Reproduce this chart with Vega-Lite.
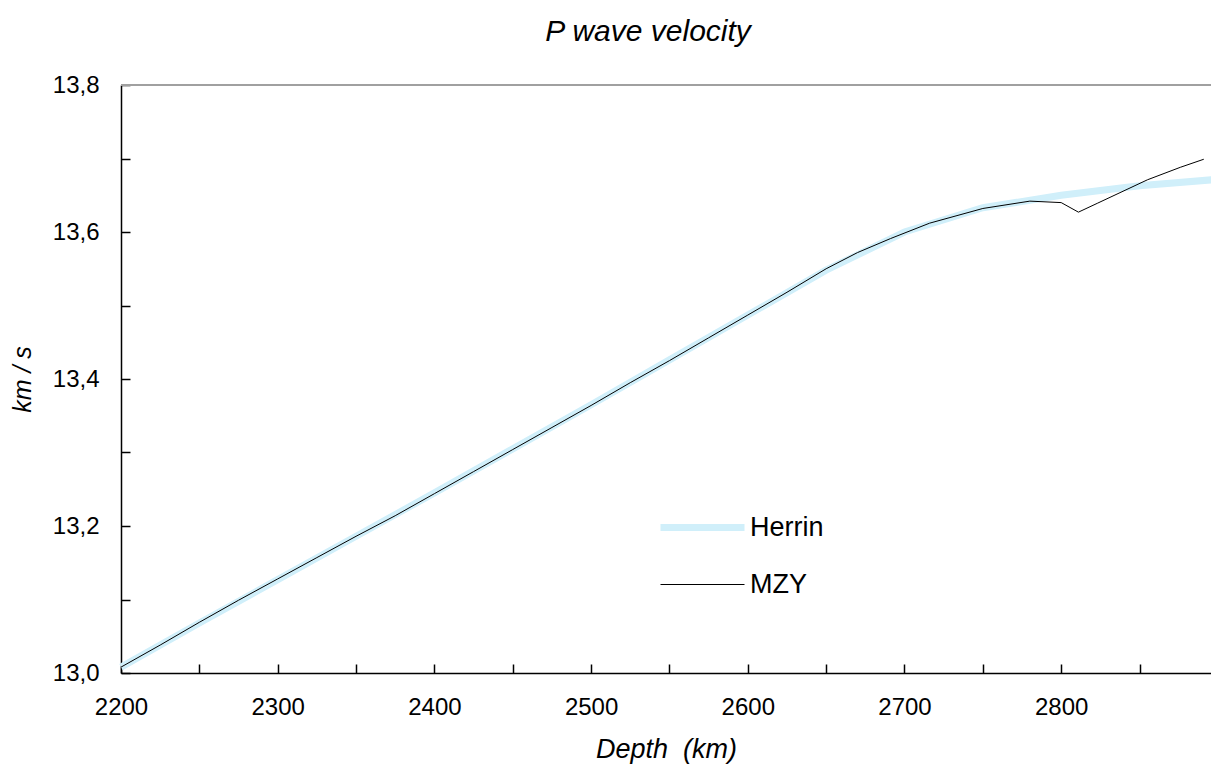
{
  "$schema": "https://vega.github.io/schema/vega-lite/v6.json",
  "width": 1090,
  "height": 588,
  "autosize": "none",
  "padding": {"left": 121, "top": 85, "right": 0, "bottom": 93},
  "background": "white",
  "config": {
    "font": "Liberation Sans",
    "view": {"stroke": null},
    "axis": {
      "grid": false,
      "domainColor": "#000000",
      "domainWidth": 1.5,
      "tickColor": "#000000",
      "tickWidth": 1.5,
      "tickSize": -9,
      "labelColor": "#000000",
      "labelFont": "Liberation Sans",
      "labelFontSize": 24,
      "titleColor": "#000000",
      "titleFont": "Liberation Sans",
      "titleFontStyle": "italic",
      "titleFontWeight": "normal"
    }
  },
  "title": {
    "text": "P wave velocity",
    "font": "Liberation Sans",
    "fontSize": 30,
    "fontStyle": "italic",
    "fontWeight": "normal",
    "color": "#000000",
    "anchor": "middle",
    "dx": -18,
    "offset": 26
  },
  "data": {
    "values": [
      {"model": "Herrin", "depth": 2200, "vp": 13.008},
      {"model": "Herrin", "depth": 2250, "vp": 13.068},
      {"model": "Herrin", "depth": 2300, "vp": 13.127},
      {"model": "Herrin", "depth": 2350, "vp": 13.186},
      {"model": "Herrin", "depth": 2400, "vp": 13.245},
      {"model": "Herrin", "depth": 2450, "vp": 13.305},
      {"model": "Herrin", "depth": 2500, "vp": 13.365},
      {"model": "Herrin", "depth": 2550, "vp": 13.426},
      {"model": "Herrin", "depth": 2600, "vp": 13.487},
      {"model": "Herrin", "depth": 2650, "vp": 13.548},
      {"model": "Herrin", "depth": 2700, "vp": 13.600},
      {"model": "Herrin", "depth": 2750, "vp": 13.633},
      {"model": "Herrin", "depth": 2800, "vp": 13.650},
      {"model": "Herrin", "depth": 2850, "vp": 13.663},
      {"model": "Herrin", "depth": 2896, "vp": 13.671},
      {"model": "MZY", "depth": 2200, "vp": 13.008},
      {"model": "MZY", "depth": 2225, "vp": 13.038},
      {"model": "MZY", "depth": 2250, "vp": 13.069},
      {"model": "MZY", "depth": 2275, "vp": 13.099},
      {"model": "MZY", "depth": 2300, "vp": 13.128},
      {"model": "MZY", "depth": 2325, "vp": 13.157},
      {"model": "MZY", "depth": 2350, "vp": 13.186},
      {"model": "MZY", "depth": 2375, "vp": 13.214},
      {"model": "MZY", "depth": 2400, "vp": 13.244},
      {"model": "MZY", "depth": 2425, "vp": 13.274},
      {"model": "MZY", "depth": 2450, "vp": 13.304},
      {"model": "MZY", "depth": 2475, "vp": 13.334},
      {"model": "MZY", "depth": 2500, "vp": 13.364},
      {"model": "MZY", "depth": 2525, "vp": 13.395},
      {"model": "MZY", "depth": 2550, "vp": 13.425},
      {"model": "MZY", "depth": 2575, "vp": 13.456},
      {"model": "MZY", "depth": 2600, "vp": 13.487},
      {"model": "MZY", "depth": 2625, "vp": 13.518},
      {"model": "MZY", "depth": 2650, "vp": 13.550},
      {"model": "MZY", "depth": 2670, "vp": 13.572},
      {"model": "MZY", "depth": 2691, "vp": 13.591},
      {"model": "MZY", "depth": 2716, "vp": 13.612},
      {"model": "MZY", "depth": 2750, "vp": 13.632},
      {"model": "MZY", "depth": 2780, "vp": 13.642},
      {"model": "MZY", "depth": 2800, "vp": 13.640},
      {"model": "MZY", "depth": 2811, "vp": 13.627},
      {"model": "MZY", "depth": 2823, "vp": 13.639},
      {"model": "MZY", "depth": 2855, "vp": 13.671},
      {"model": "MZY", "depth": 2876, "vp": 13.688},
      {"model": "MZY", "depth": 2891, "vp": 13.699}
    ]
  },
  "layer": [
    {
      "mark": {"type": "rule", "color": "#a0a0a0", "strokeWidth": 1.5},
      "encoding": {"y": {"datum": 13.8, "type": "quantitative"}}
    },
    {
      "mark": {"type": "line", "interpolate": "linear"},
      "encoding": {
        "x": {
          "field": "depth",
          "type": "quantitative",
          "scale": {"domain": [2200, 2895.6], "nice": false, "zero": false},
          "axis": {
            "title": "Depth \u00a0(km)",
            "titleFontSize": 27,
            "titlePadding": 17,
            "values": [2200, 2250, 2300, 2350, 2400, 2450, 2500, 2550, 2600, 2650, 2700, 2750, 2800, 2850],
            "labelExpr": "datum.value % 100 == 0 ? datum.value : ''",
            "labelPadding": 31,
            "labelFlush": false,
            "labelOverlap": false
          }
        },
        "y": {
          "field": "vp",
          "type": "quantitative",
          "scale": {"domain": [13.0, 13.8], "nice": false, "zero": false},
          "axis": {
            "title": "km / s",
            "titleFontSize": 25,
            "titlePadding": 17,
            "values": [13.0, 13.1, 13.2, 13.3, 13.4, 13.5, 13.6, 13.7, 13.8],
            "labelExpr": "round(datum.value * 10) % 2 == 0 ? replace(format(datum.value, '.1f'), '.', ',') : ''",
            "labelPadding": 31,
            "labelOverlap": false,
            "labelFlush": false
          }
        },
        "color": {
          "field": "model",
          "type": "nominal",
          "scale": {"domain": ["Herrin", "MZY"], "range": ["#d0effa", "#000000"]},
          "legend": {
            "title": null,
            "orient": "none",
            "legendX": 536,
            "legendY": 397,
            "symbolType": "stroke",
            "symbolSize": 7056,
            "labelFontSize": 27,
            "labelFont": "Liberation Sans",
            "labelColor": "#000000",
            "labelOffset": 2,
            "rowPadding": -32,
            "padding": 0
          }
        },
        "strokeWidth": {
          "field": "model",
          "type": "nominal",
          "scale": {"domain": ["Herrin", "MZY"], "range": [7, 1]},
          "legend": null
        },
        "order": {"field": "depth", "type": "quantitative"}
      }
    }
  ]
}
